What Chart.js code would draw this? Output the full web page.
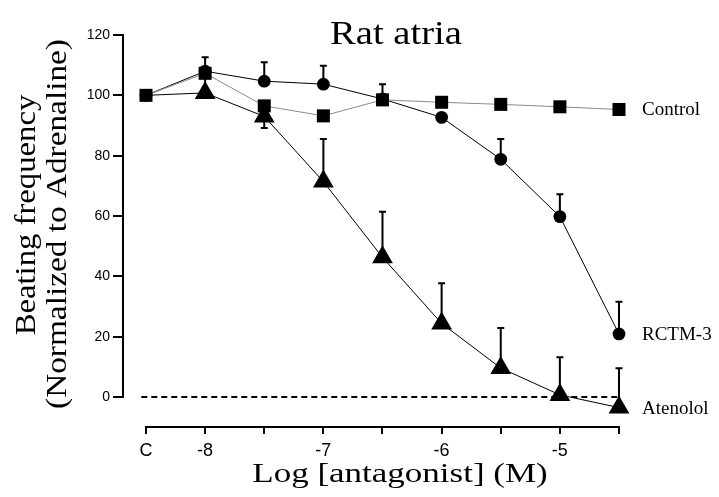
<!DOCTYPE html>
<html>
<head>
<meta charset="utf-8">
<script src="https://cdn.jsdelivr.net/npm/chart.js@4.4.1/dist/chart.umd.min.js"></script>
<style>
  body { margin: 0; background: #fff; }
  #wrap { width: 719px; height: 497px; position: relative; }
</style>
</head>
<body>
<div id="wrap"><canvas id="chart1"></canvas></div>
<script>
// log concentration, C (control, no antagonist) sits at -8.5
const doses = [-8.5, -8, -7.5, -7, -6.5, -6, -5.5, -5, -4.5];
const xTickLabels = ['C', '-8', '', '-7', '', '-6', '', '-5', ''];
const yTicks = [0, 20, 40, 60, 80, 100, 120];

const controlValues = [100, 107.3, 96.5, 93.2, 98.5, 97.7, 97.0, 96.2, 95.3];
const controlErr    = [0, -6, 0, 0, 5.2, 0, 0, 1.5, 1];
const rctmValues    = [100, 108, 104.7, 103.7, 98.8, 92.7, 78.8, 59.8, 20.9];
const rctmErr       = [0, 4.6, 6.3, 6.1, 0, 0, 6.7, 7.4, 10.7];
const atenololValues = [100, 100.8, 93, 71.4, 46.3, 24.4, 9.6, 0.7, -3.5];
const atenololErr    = [0, 0, -3.8, 14.1, 15.1, 13.3, 13.3, 12.5, 13];

const seriesNames = ['Control', 'RCTM-3', 'Atenolol'];
const zeroLine = [[-8.54, 0], [-4.5, 0]];

const serif = '"Liberation Serif", "Times New Roman", serif';
const sans = '"Liberation Sans", Arial, sans-serif';

function pts(vals) {
  return vals.map((v, i) => ({ x: doses[i], y: v }));
}

function drawText(ctx, text, x, y, size, sx, rot) {
  ctx.save();
  ctx.translate(x, y);
  if (rot) ctx.rotate(rot);
  ctx.scale(sx, 1);
  ctx.font = size + 'px ' + serif;
  ctx.fillStyle = '#000';
  ctx.textAlign = 'center';
  ctx.textBaseline = 'alphabetic';
  ctx.fillText(text, 0, 0);
  ctx.restore();
}

const extras = {
  id: 'extras',
  beforeDatasetsDraw(chart) {
    const ctx = chart.ctx;
    const xs = chart.scales.x, ys = chart.scales.y;
    ctx.save();
    ctx.strokeStyle = '#000';
    ctx.lineWidth = 2;
    // offset axis lines
    ctx.beginPath();
    ctx.moveTo(xs.left, ys.getPixelForValue(120) - 1);
    ctx.lineTo(xs.left, ys.getPixelForValue(0) + 1);
    ctx.moveTo(xs.getPixelForValue(-8.5) - 1, ys.bottom);
    ctx.lineTo(xs.getPixelForValue(-4.5) + 1, ys.bottom);
    ctx.stroke();
    // error bars (one sided)
    chart.data.datasets.forEach(ds => {
      if (!ds.err) return;
      ds.data.forEach((p, i) => {
        const e = ds.err[i];
        if (!e) return;
        const px = xs.getPixelForValue(p.x);
        const y0 = ys.getPixelForValue(p.y);
        const y1 = ys.getPixelForValue(p.y + e);
        ctx.beginPath();
        ctx.moveTo(px, y0);
        ctx.lineTo(px, y1);
        ctx.moveTo(px - 3.5, y1);
        ctx.lineTo(px + 3.5, y1);
        ctx.stroke();
      });
    });
    ctx.restore();
  },
  afterDraw(chart) {
    const ctx = chart.ctx;
    const xs = chart.scales.x, ys = chart.scales.y;
    drawText(ctx, 'Rat atria', 396, 44, 33, 1.17);
    drawText(ctx, 'Log [antagonist] (M)', 400, 482, 28, 1.25);
    drawText(ctx, 'Beating frequency', 35, 215, 30, 1.09, -Math.PI / 2);
    drawText(ctx, '(Normalized to Adrenaline)', 66, 224, 30, 1.11, -Math.PI / 2);
    // series names next to last points
    ctx.save();
    ctx.font = '19px ' + serif;
    ctx.fillStyle = '#000';
    ctx.textBaseline = 'middle';
    chart.data.datasets.forEach(ds => {
      if (!ds.name) return;
      const last = ds.data[ds.data.length - 1];
      ctx.fillText(ds.name, xs.getPixelForValue(last.x) + 23, ys.getPixelForValue(last.y) + 1);
    });
    ctx.restore();
  }
};

const data = {
  datasets: [
    {
      label: seriesNames[0], name: seriesNames[0],
      data: pts(controlValues), err: controlErr,
      borderColor: '#8a8a8a', borderWidth: 1,
      pointStyle: 'rect', pointRadius: 9.2,
      pointBackgroundColor: '#000', pointBorderColor: '#000', pointBorderWidth: 0,
      tension: 0, clip: false,
    },
    {
      label: seriesNames[1], name: seriesNames[1],
      data: pts(rctmValues), err: rctmErr,
      borderColor: '#000', borderWidth: 1,
      pointStyle: 'circle', pointRadius: 6.4,
      pointBackgroundColor: '#000', pointBorderColor: '#000', pointBorderWidth: 0,
      tension: 0, clip: false,
    },
    {
      label: seriesNames[2], name: seriesNames[2],
      data: pts(atenololValues), err: atenololErr,
      borderColor: '#000', borderWidth: 1,
      pointStyle: 'triangle',
      // the control point marker is hidden behind the others in the original
      pointRadius: doses.map((d, i) => (i === 0 ? 0 : 12)),
      pointBackgroundColor: '#000', pointBorderColor: '#000', pointBorderWidth: 0,
      tension: 0, clip: false,
    },
    {
      label: 'zero',
      data: zeroLine.map(p => ({ x: p[0], y: p[1] })),
      borderColor: '#000', borderWidth: 2, borderDash: [6, 4],
      pointRadius: 0, clip: false,
    },
  ],
};

new Chart(document.getElementById('chart1'), {
  type: 'line',
  data: data,
  plugins: [extras],
  options: {
    responsive: true,
    maintainAspectRatio: false,
    animation: false,
    layout: { padding: { left: 0, top: 35, right: 79, bottom: 0 } },
    plugins: { legend: { display: false }, tooltip: { enabled: false }, title: { display: false } },
    scales: {
      x: {
        type: 'linear',
        min: -8.6945, max: -4.3224,
        afterFit(s) { s.height = 70; },
        afterBuildTicks(s) { s.ticks = doses.map(v => ({ value: v })); },
        border: { display: false },
        grid: { drawOnChartArea: false, drawTicks: true, tickLength: 7, color: '#000', lineWidth: 2 },
        ticks: {
          autoSkip: false, maxRotation: 0, padding: 6, color: '#000',
          font: { family: sans, size: 18 },
          callback(v) { const i = doses.indexOf(v); return i >= 0 ? xTickLabels[i] : ''; },
        },
      },
      y: {
        min: -9.94, max: 120,
        afterFit(s) { s.width = 123; },
        afterBuildTicks(s) { s.ticks = yTicks.map(v => ({ value: v })); },
        border: { display: false },
        grid: { drawOnChartArea: false, drawTicks: true, tickLength: 10, color: '#000', lineWidth: 2 },
        ticks: { padding: 3, color: '#000', font: { family: sans, size: 14 } },
      },
    },
  },
});
</script>
</body>
</html>
